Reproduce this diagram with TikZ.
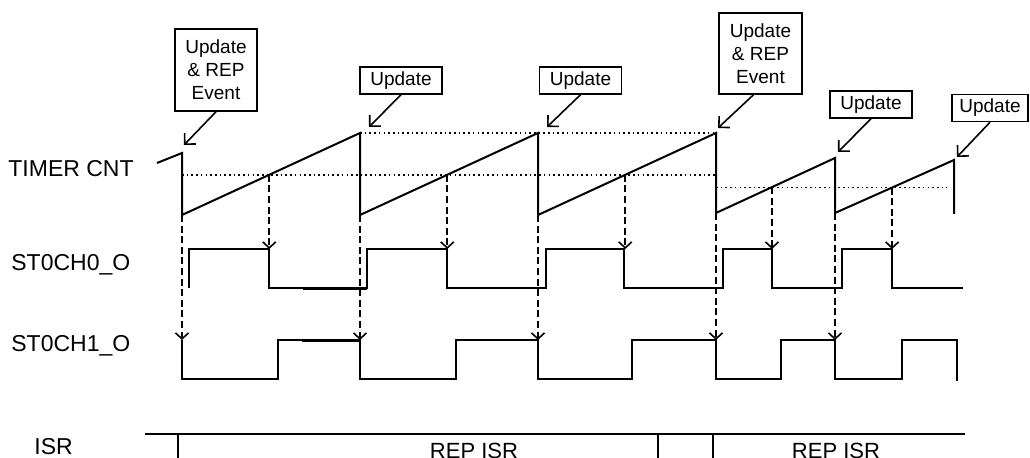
\documentclass[tikz,border=0pt]{standalone}
\usepackage{fontspec}
\setmainfont{Liberation Sans}
\usetikzlibrary{arrows.meta,calc}

\begin{document}
\begin{tikzpicture}[x=0.5pt,y=-0.5pt,
  wave/.style={line width=1pt, line join=miter},
  guide/.style={line width=0.8pt, dash pattern=on 0.8pt off 1.55pt},
  probe/.style={line width=0.8pt, dash pattern=on 3.5pt off 1.8pt,
    -{Straight Barb[length=3pt,width=6.5pt]}},
  pointer/.style={line width=0.8pt, -{Straight Barb[length=3.9pt,width=7.8pt]}},
  callout/.style={draw, line width=0.75pt, inner sep=0pt, align=center,
    font=\fontsize{9.5}{11.5}\selectfont},
  siglabel/.style={anchor=base west, inner sep=0pt, font=\fontsize{11.5}{13}\selectfont},
  isrlabel/.style={anchor=base, inner sep=0pt, font=\fontsize{11}{13}\selectfont},
]
\useasboundingbox (0,0) rectangle (1030,458);
\clip (0,0) rectangle (1030,458);

% signal names
\node[siglabel] (lcnt) at (8,177) {TIMER CNT};
\node[siglabel] (lch0) at (11,271) {ST0CH0\_O};
\node[siglabel] (lch1) at (11,352) {ST0CH1\_O};
\node[siglabel] (lisr) at (34,455) {ISR};

% counter: reset and peak points
\coordinate (s0) at (157,163);
\coordinate (p0) at (182,153);
\coordinate (r1) at (182,215);
\coordinate (p1) at (360,133);
\coordinate (r2) at (360,215);
\coordinate (p2) at (538,133);
\coordinate (r3) at (538,215);
\coordinate (p3) at (716,133);
\coordinate (r4) at (716,213);
\coordinate (p4) at (835,158);
\coordinate (r5) at (835,213);
\coordinate (p5) at (954,160);
\coordinate (e5) at (954,214);

% compare-match points
\coordinate (c1) at ($(r1)!0.49!(p1)$);
\coordinate (c2) at ($(r2)!0.49!(p2)$);
\coordinate (c3) at ($(r3)!0.49!(p3)$);
\coordinate (c4) at ($(r4)!0.47!(p4)$);
\coordinate (c5) at ($(r5)!0.48!(p5)$);
\coordinate (g4) at (947,187.5);

% output levels
\coordinate (h0) at (0,249);
\coordinate (h1) at (0,340);

% threshold and period guides
\draw[guide] (p1) -- (p3);
\draw[guide] (r1 |- c1) -- (p3 |- c1);
\draw[guide] (r4 |- g4) -- (g4);

% counter sawtooth
\draw[wave] (s0) -- (p0) -- (r1) -- (p1) -- (r2) -- (p2) -- (r3) -- (p3)
  -- (r4) -- (p4) -- (r5) -- (p5) -- (e5);

% channel 0 output
\draw[wave] (189,288) -- (189,249) -- (269,249) -- (269,288) -- (367,288)
  -- (367,249) -- (447,249) -- (447,288) -- (546,288) -- (546,249)
  -- (624,249) -- (624,288) -- (723,288) -- (723,249) -- (772,249)
  -- (772,288) -- (842,288) -- (842,249) -- (892,249) -- (892,288) -- (963,288);
\draw[wave] (303,289) -- (367,289);

% channel 1 output
\draw[wave] (182,340) -- (182,379) -- (278,379) -- (278,340) -- (360,340)
  -- (360,379) -- (456,379) -- (456,340) -- (538,340) -- (538,379)
  -- (632,379) -- (632,340) -- (716,340) -- (716,379) -- (781,379)
  -- (781,340) -- (835,340) -- (835,379) -- (902,379) -- (902,340)
  -- (957,340) -- (957,381);
\draw[wave] (302,341) -- (360,341);

% event propagation
\draw[probe] (r1) -- (r1 |- h1);
\draw[probe] (c1) -- (c1 |- h0);
\draw[probe] (r2) -- (r2 |- h1);
\draw[probe] (c2) -- (c2 |- h0);
\draw[probe] (r3) -- (r3 |- h1);
\draw[probe] (c3) -- (c3 |- h0);
\draw[probe] (r4) -- (r4 |- h1);
\draw[probe] (c4) -- (c4 |- h0);
\draw[probe] (r5) -- (r5 |- h1);
\draw[probe] (c5) -- (c5 |- h0);

% event callouts
\node[callout, minimum width=41pt, minimum height=41pt] (b1) at (216,70) {Update\\\& REP\\Event};
\node[callout, minimum width=41pt, minimum height=13.5pt] (b2) at (401,80.5) {Update};
\node[callout, minimum width=41pt, minimum height=13.5pt] (b3) at (580.5,80.5) {Update};
\node[callout, minimum width=41.5pt, minimum height=40.5pt] (b4) at (760.5,53.5) {Update\\\& REP\\Event};
\node[callout, minimum width=41pt, minimum height=13.5pt] (b5) at (871,104.5) {Update};
\node[callout, minimum width=38pt, minimum height=13.5pt] (b6) at (990,108) {Update};

\coordinate (a1) at (184,145);
\coordinate (a2) at (369,127);
\coordinate (a3) at (547,127);
\coordinate (a4) at (718,128);
\coordinate (a5) at (838,152);
\coordinate (a6) at (957,157);

\draw[pointer] (b1.south) -- (a1);
\draw[pointer] (b2.south) -- (a2);
\draw[pointer] (b3.south) -- (a3);
\draw[pointer] ($(b4.south)+(-7,0)$) -- (a4);
\draw[pointer] (b5.south) -- (a5);
\draw[pointer] (b6.south) -- (a6);

% interrupt service routine timeline
\coordinate (i0) at (145,434);
\coordinate (i1) at (965,434);
\draw[wave] (i0) -- (i1);
\coordinate (t1) at (178,434);
\coordinate (t2) at (658,434);
\coordinate (t3) at (713,434);
\draw[wave] (t1) -- ++(0,26);
\draw[wave] (t2) -- ++(0,26);
\draw[wave] (t3) -- ++(0,26);
\node[isrlabel] (isr1) at (474,459) {REP ISR};
\node[isrlabel] (isr2) at (836,459) {REP ISR};
\end{tikzpicture}
\end{document}
